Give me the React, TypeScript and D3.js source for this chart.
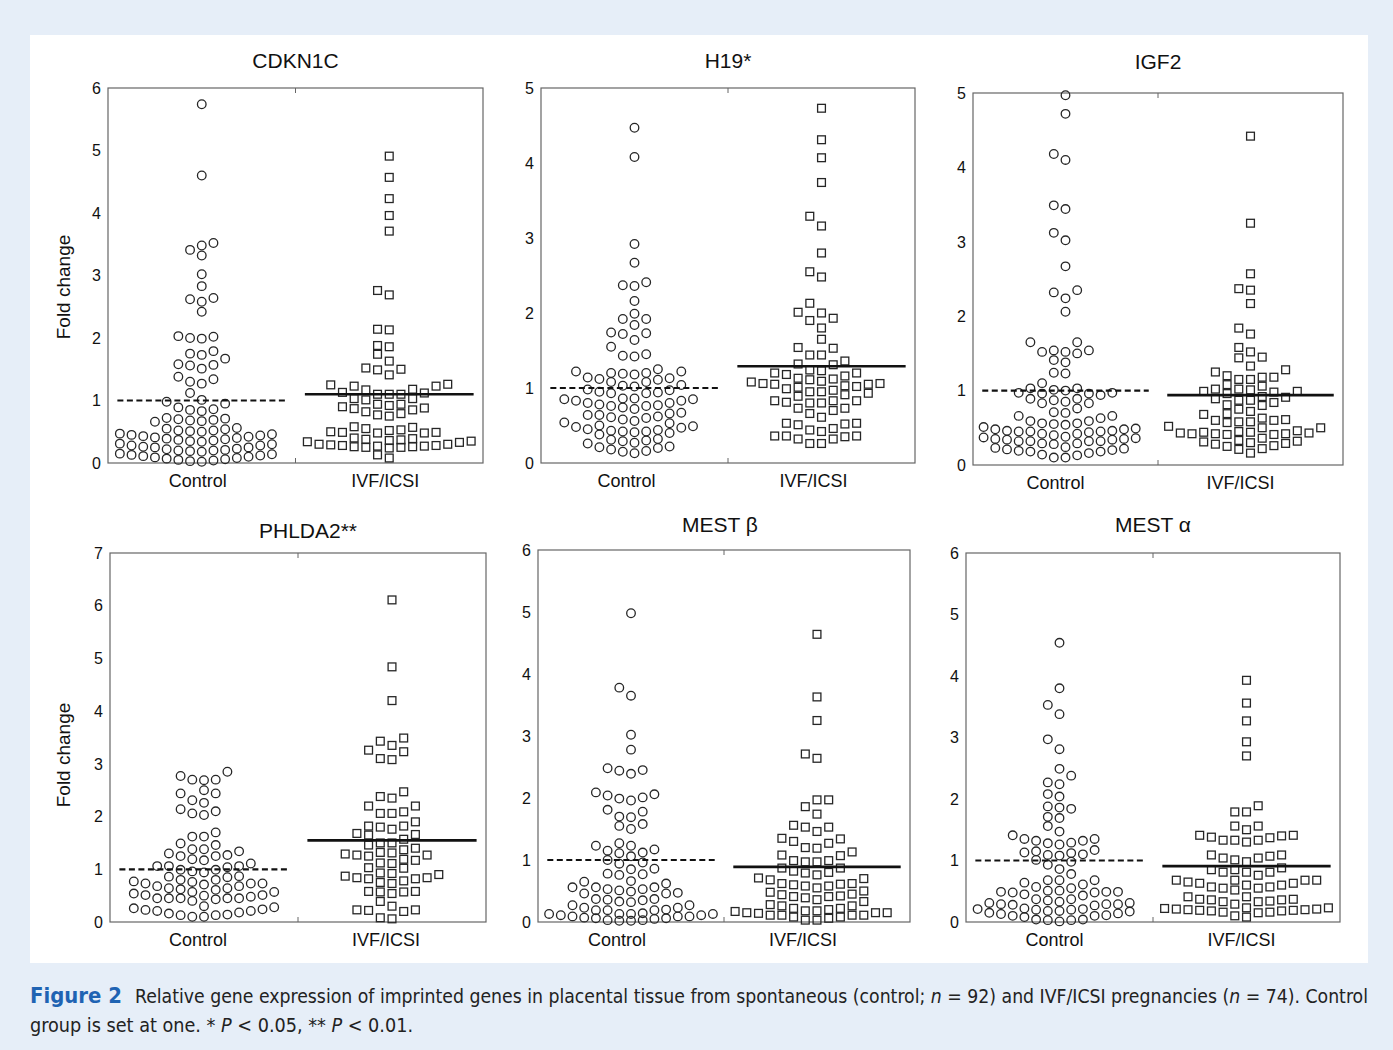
import * as React from 'react';
import * as d3 from 'd3';

// fold change values, one array per gene and group
const cdkn1cControl = [5.74, 4.60, 3.52, 3.48, 3.41, 3.32, 3.02, 2.83, 2.64, 2.62, 2.58, 2.42, 2.03, 2.02, 2.00, 1.99, 1.79, 1.75, 1.73, 1.67, 1.58, 1.57, 1.56, 1.51, 1.38, 1.34, 1.30, 1.27, 1.12, 1.01, 0.98, 0.95, 0.89, 0.86, 0.85, 0.83,
  0.72, 0.71, 0.70, 0.69, 0.68, 0.67, 0.66,
  0.56, 0.55, 0.54, 0.52, 0.52, 0.51, 0.50,
  0.47, 0.46, 0.45, 0.44, 0.43, 0.42, 0.41, 0.40, 0.39, 0.38, 0.37, 0.36, 0.35, 0.34,
  0.31, 0.30, 0.28, 0.28, 0.26, 0.25, 0.25, 0.23, 0.22, 0.21, 0.20, 0.20, 0.19, 0.18,
  0.15, 0.14, 0.13, 0.12, 0.11, 0.10, 0.09, 0.08, 0.07, 0.06, 0.05, 0.04, 0.03, 0.02];
const cdkn1cIvf = [4.91, 4.57, 4.23, 3.96, 3.71, 2.76, 2.69, 2.14, 2.13, 1.88, 1.86, 1.74, 1.63, 1.52, 1.50, 1.49, 1.41, 1.26,
  1.25, 1.23, 1.23, 1.18, 1.17, 1.13, 1.12, 1.10, 1.10, 1.10, 1.03, 1.03, 1.01,
  0.94, 0.94, 0.92, 0.90, 0.88, 0.87, 0.85, 0.82, 0.79, 0.77, 0.75,
  0.58, 0.57, 0.55, 0.53, 0.52, 0.50, 0.49, 0.49, 0.48, 0.48,
  0.40, 0.39, 0.38, 0.37, 0.36, 0.35, 0.34, 0.33,
  0.30, 0.30, 0.29, 0.28, 0.28, 0.27, 0.27, 0.26, 0.26, 0.25, 0.25, 0.24,
  0.13, 0.08];

const h19Control = [4.47, 4.08, 2.92, 2.67, 2.41, 2.37, 2.36, 2.16, 1.99, 1.92, 1.92, 1.84, 1.74, 1.73, 1.72, 1.64, 1.55, 1.45, 1.43, 1.42,
  1.25, 1.22, 1.22, 1.20, 1.20, 1.19, 1.18, 1.14, 1.13, 1.12, 1.11, 1.08, 1.08,
  1.04, 1.03, 1.02,
  0.98, 0.97, 0.95, 0.94, 0.93, 0.93,
  0.86, 0.86, 0.85, 0.85, 0.83, 0.83, 0.80, 0.80, 0.78, 0.77, 0.76, 0.76, 0.74, 0.72,
  0.67, 0.66, 0.64, 0.64, 0.62, 0.61, 0.60, 0.58, 0.56, 0.54, 0.53,
  0.50, 0.49, 0.48, 0.47, 0.45, 0.44, 0.43, 0.42, 0.42, 0.41, 0.40, 0.38,
  0.32, 0.31, 0.30, 0.29, 0.27, 0.26, 0.22, 0.21, 0.20, 0.18, 0.16, 0.15, 0.13];
const h19Ivf = [4.73, 4.31, 4.07, 3.74, 3.29, 3.16, 2.80, 2.55, 2.48, 2.13, 2.01, 2.00, 1.93, 1.90, 1.80, 1.65, 1.54, 1.53, 1.44, 1.44, 1.36, 1.32, 1.31, 1.24, 1.23,
  1.20, 1.20, 1.18, 1.16, 1.13, 1.12, 1.11, 1.09, 1.08, 1.06, 1.06, 1.05, 1.05,
  1.03, 1.02, 1.01, 0.99, 0.97, 0.95, 0.95, 0.93, 0.91, 0.89,
  0.83, 0.83, 0.83, 0.81, 0.80, 0.80, 0.73, 0.73, 0.70, 0.66,
  0.61, 0.53, 0.53, 0.52, 0.51, 0.46,
  0.44, 0.42, 0.36, 0.36, 0.36, 0.35, 0.32, 0.32, 0.26, 0.26];

const igf2Control = [4.97, 4.72, 4.18, 4.10, 3.49, 3.44, 3.12, 3.02, 2.67, 2.35, 2.32, 2.24, 2.06, 1.65, 1.65, 1.54, 1.54, 1.52, 1.52, 1.50, 1.41, 1.38, 1.24, 1.23, 1.10,
  1.03, 1.03, 1.01, 1.00, 0.97, 0.97, 0.96, 0.96,
  0.94, 0.89, 0.89, 0.87, 0.85, 0.83, 0.83, 0.76,
  0.71, 0.70, 0.66, 0.66, 0.63, 0.59, 0.59, 0.56, 0.56, 0.55,
  0.54, 0.51, 0.49, 0.48, 0.48, 0.46, 0.46, 0.45, 0.45, 0.45, 0.44, 0.42, 0.42,
  0.40, 0.38, 0.37, 0.36, 0.35, 0.35, 0.34, 0.34, 0.32, 0.32, 0.32, 0.32, 0.29, 0.29,
  0.28, 0.24, 0.23, 0.22, 0.21, 0.20, 0.19, 0.18, 0.18, 0.16, 0.14, 0.13, 0.10, 0.10];
const igf2Ivf = [4.42, 3.25, 2.57, 2.37, 2.35, 2.17, 1.84, 1.76, 1.58, 1.52, 1.45, 1.44, 1.33,
  1.28, 1.25, 1.20, 1.18, 1.18, 1.15, 1.15,
  1.08, 1.06, 1.02, 1.02, 1.01, 0.99, 0.99, 0.98, 0.96,
  0.92, 0.91, 0.89, 0.87, 0.87, 0.84, 0.81, 0.80, 0.75,
  0.72, 0.69, 0.68, 0.63, 0.61, 0.60, 0.60, 0.58, 0.58, 0.57,
  0.52, 0.50, 0.50, 0.46, 0.45, 0.44, 0.44, 0.43, 0.43, 0.42, 0.42, 0.42, 0.41, 0.41,
  0.36, 0.33, 0.32, 0.31, 0.30, 0.29, 0.28, 0.26, 0.25, 0.22, 0.21, 0.16];

const phlda2Control = [2.85, 2.77, 2.70, 2.70, 2.69, 2.50, 2.44, 2.44, 2.31, 2.26, 2.14, 2.10, 2.06, 2.03, 1.70, 1.62, 1.62, 1.49, 1.46,
  1.38, 1.38, 1.34, 1.30, 1.27, 1.25, 1.25, 1.19, 1.17, 1.11,
  1.06, 1.06, 1.06, 1.04, 0.99, 0.99, 0.96, 0.94, 0.87, 0.86, 0.85,
  0.80, 0.80, 0.77, 0.76, 0.73, 0.73, 0.73, 0.71, 0.68, 0.68, 0.64, 0.64, 0.62, 0.61,
  0.57, 0.57, 0.54, 0.51, 0.51, 0.50, 0.48, 0.45, 0.45, 0.45, 0.45, 0.45, 0.43, 0.40,
  0.30, 0.28, 0.26, 0.24, 0.23, 0.21, 0.21, 0.18, 0.16, 0.14, 0.13, 0.13, 0.10, 0.10];
const phlda2Ivf = [6.11, 4.84, 4.20, 3.49, 3.43, 3.35, 3.26, 3.23, 3.10, 3.08,
  2.47, 2.38, 2.35, 2.20, 2.20, 2.09, 2.06, 2.06,
  1.90, 1.82, 1.82, 1.80, 1.76, 1.68, 1.66, 1.65,
  1.57, 1.50, 1.50, 1.46, 1.40, 1.37, 1.32, 1.31,
  1.29, 1.27, 1.27, 1.25, 1.19, 1.17, 1.12, 1.11, 1.03, 1.02,
  0.93, 0.92, 0.90, 0.87, 0.84, 0.84, 0.82, 0.82, 0.78, 0.75, 0.73,
  0.58, 0.58, 0.57, 0.57, 0.54, 0.39,
  0.30, 0.23, 0.23, 0.22, 0.20, 0.08, 0.06];

const mestBControl = [4.98, 3.78, 3.65, 3.02, 2.78, 2.48, 2.45, 2.44, 2.39, 2.09, 2.06, 2.04, 2.01, 1.99, 1.96, 1.81, 1.78, 1.70, 1.69, 1.58, 1.55, 1.50, 1.27,
  1.23, 1.23, 1.17, 1.15, 1.12, 1.11, 1.06, 1.00,
  0.96, 0.94, 0.86, 0.85, 0.78, 0.77, 0.76,
  0.66, 0.65, 0.62, 0.56, 0.56, 0.56, 0.53, 0.53, 0.51, 0.49, 0.47, 0.46, 0.46,
  0.37, 0.37, 0.36, 0.35, 0.33, 0.32, 0.27, 0.27, 0.23, 0.23, 0.20, 0.19, 0.19, 0.19,
  0.14, 0.13, 0.13, 0.13, 0.13, 0.11, 0.11, 0.09, 0.09, 0.09, 0.07, 0.06, 0.06, 0.05,
  0.03, 0.03, 0.02, 0.02];
const mestBIvf = [4.64, 3.63, 3.25, 2.71, 2.64, 1.97, 1.97, 1.86, 1.74, 1.56, 1.53, 1.53, 1.46, 1.35, 1.34, 1.30, 1.27, 1.20, 1.19, 1.13, 1.08, 1.07, 0.99, 0.99, 0.97, 0.97,
  0.87, 0.87, 0.82, 0.80, 0.79, 0.76, 0.71, 0.70, 0.68,
  0.62, 0.62, 0.61, 0.60, 0.58, 0.58, 0.55, 0.50, 0.48, 0.45, 0.44,
  0.42, 0.41, 0.41, 0.39, 0.36, 0.33, 0.28, 0.26, 0.26, 0.22, 0.22, 0.20,
  0.18, 0.18, 0.17, 0.15, 0.15, 0.15, 0.14, 0.11, 0.11, 0.11, 0.11, 0.08, 0.08, 0.06,
  0.03, 0.03];

const mestAControl = [4.54, 3.80, 3.53, 3.38, 2.97, 2.81, 2.49, 2.38, 2.27, 2.24, 2.08, 2.04, 1.88, 1.86, 1.84, 1.71, 1.69, 1.56, 1.47, 1.41,
  1.35, 1.35, 1.32, 1.32, 1.29, 1.28, 1.26,
  1.17, 1.15, 1.13, 1.12, 1.10, 1.09, 1.08,
  1.01, 0.98, 0.93, 0.86,
  0.78, 0.68, 0.68,
  0.68, 0.64, 0.61, 0.57, 0.55, 0.51, 0.51, 0.49, 0.49, 0.49, 0.48, 0.48,
  0.45, 0.43, 0.37, 0.37, 0.35, 0.33, 0.31, 0.31, 0.29, 0.29, 0.29, 0.28, 0.27, 0.22,
  0.21, 0.21, 0.20, 0.20, 0.18, 0.18, 0.17, 0.15, 0.14, 0.13, 0.11, 0.10, 0.10, 0.08,
  0.04, 0.04, 0.03, 0.03, 0.01];
const mestAIvf = [3.93, 3.56, 3.27, 2.93, 2.70, 1.89, 1.79, 1.79, 1.56, 1.56,
  1.50, 1.41, 1.41, 1.40, 1.38, 1.37, 1.33, 1.33, 1.33, 1.30,
  1.09, 1.09, 1.07, 1.04, 1.04, 1.01, 0.98,
  0.88, 0.85, 0.85, 0.81, 0.81, 0.81, 0.76,
  0.68, 0.68, 0.68, 0.68, 0.65, 0.63, 0.63, 0.60, 0.60, 0.57, 0.57, 0.55, 0.55, 0.52,
  0.41, 0.41, 0.37, 0.37, 0.36, 0.36, 0.34, 0.33, 0.33, 0.29,
  0.23, 0.23, 0.22, 0.21, 0.21, 0.20, 0.20, 0.19, 0.19, 0.18, 0.18, 0.16, 0.16, 0.15,
  0.10, 0.08];

const genes = ['CDKN1C', 'H19*', 'IGF2', 'PHLDA2**', 'MEST β', 'MEST α'];
const groups = ['Control', 'IVF/ICSI'];
const yMaxes = [6, 5, 5, 7, 6, 6];
const controlLevel = [1, 1, 1, 1, 1, 1];
const ivfLevel = [1.10, 1.29, 0.94, 1.55, 0.89, 0.91];
const controlSets = [cdkn1cControl, h19Control, igf2Control, phlda2Control, mestBControl, mestAControl];
const ivfSets = [cdkn1cIvf, h19Ivf, igf2Ivf, phlda2Ivf, mestBIvf, mestAIvf];

// axes boxes in page pixels
const boxes = [
  {left: 108, right: 483, top: 88, bottom: 463, titleY: 68, labelDx: -4, yLabel: 287},
  {left: 541, right: 915, top: 88, bottom: 463, titleY: 68, labelDx: -8},
  {left: 973, right: 1343, top: 93, bottom: 465, titleY: 69, labelDx: -10},
  {left: 110, right: 486, top: 553, bottom: 922, titleY: 538, labelDx: -6, yLabel: 755, titleDx: 10},
  {left: 538, right: 910, top: 550, bottom: 922, titleY: 532, labelDx: -14, titleDx: -4},
  {left: 966, right: 1340, top: 553, bottom: 922, titleY: 532, labelDx: -5},
];

const FONT = '"Liberation Sans", Arial, Helvetica, sans-serif';
const SLOT = 11.7;
const BIN_PX = 10;
const BIN_MAX = 14;
const MIN_GAP = 8.5;
const slotOrder = [0, -1, 1, -2, 2, -3, 3, -4, 4, -5, 5, -6, 6, -7, 7];

// plotSpread-like layout: rows of nearby values, lowest in the middle, higher ones pushed outwards
function swarm(values: number[], y: any) {
  const sorted = [...values].sort((a, b) => a - b);
  const bins: number[][] = [];
  let cur: number[] = [];
  for (const v of sorted) {
    if (cur.length && (y(cur[0]) - y(v) >= BIN_PX || cur.length >= BIN_MAX)) {
      bins.push(cur);
      cur = [];
    }
    cur.push(v);
  }
  if (cur.length) bins.push(cur);
  const last = new Map<number, number>();
  const out: {v: number, slot: number}[] = [];
  bins.forEach(bin => {
    const used = new Set<number>();
    bin.forEach(v => {
      const py = y(v);
      const free = slotOrder.filter(s => !used.has(s));
      const gapOf = (s: number) => last.has(s) ? last.get(s)! - py : Infinity;
      let slot = free.find(s => gapOf(s) >= MIN_GAP);
      if (slot === undefined) {
        slot = free[0];
        free.forEach(s => { if (gapOf(s) > gapOf(slot!) + 0.5) slot = s; });
      }
      used.add(slot);
      last.set(slot, py);
      out.push({v, slot});
    });
  });
  return out;
}

function Panel({i}: {i: number}) {
  const b = boxes[i];
  const x = d3.scaleLinear().domain([0.5, 2.5]).range([b.left, b.right]);
  const y = d3.scaleLinear().domain([0, yMaxes[i]]).range([b.bottom, b.top]);
  const ticks = d3.range(0, yMaxes[i] + 1);
  const sets = [controlSets[i], ivfSets[i]];
  const levels = [controlLevel[i], ivfLevel[i]];
  const cx = (b.left + b.right) / 2;
  return (
    <g>
      <rect x={b.left} y={b.top} width={b.right - b.left} height={b.bottom - b.top} fill="#fff" stroke="#666" strokeWidth={1.2} />
      <line x1={cx} x2={cx} y1={b.top} y2={b.top + 5} stroke="#666" strokeWidth={1} />
      <line x1={cx} x2={cx} y1={b.bottom} y2={b.bottom - 5} stroke="#666" strokeWidth={1} />
      {ticks.map(t => (
        <text key={t} x={b.left - 7} y={y(t)} dy="0.36em" textAnchor="end" fontSize={16} fontFamily={FONT} fill="#111">{t}</text>
      ))}
      {sets.map((vals, g) => {
        const c = x(g + 1);
        return swarm(vals, y).map((d, k) => g === 0 ? (
          <circle key={'c' + g + k} cx={c + d.slot * SLOT} cy={y(d.v)} r={4.3} fill="none" stroke="#262626" strokeWidth={1.3} />
        ) : (
          <rect key={'s' + g + k} x={c + d.slot * SLOT - 3.9} y={y(d.v) - 3.9} width={7.8} height={7.8} fill="none" stroke="#262626" strokeWidth={1.3} />
        ));
      })}
      {levels.map((lv, g) => (
        <line key={'l' + g} x1={x(g + 1 - 0.45)} x2={x(g + 1 + 0.45)} y1={y(lv)} y2={y(lv)}
          stroke="#111" strokeWidth={g === 0 ? 2.2 : 2.7} strokeDasharray={g === 0 ? '6,3.5' : undefined} />
      ))}
      {groups.map((gName, g) => (
        <text key={gName} x={x(g + 1) + b.labelDx} y={b.bottom + 24} textAnchor="middle" fontSize={18} fontFamily={FONT} fill="#111">{gName}</text>
      ))}
      <text x={cx + (b.titleDx || 0)} y={b.titleY} textAnchor="middle" fontSize={21} fontFamily={FONT} fill="#111">{genes[i]}</text>
      {b.yLabel && (
        <text transform={`translate(70,${b.yLabel}) rotate(-90)`} textAnchor="middle" fontSize={19} fontFamily={FONT} fill="#111">Fold change</text>
      )}
    </g>
  );
}

export default function App() {
  const capFont = '"Liberation Sans Narrow", "DejaVu Sans Condensed", "Liberation Sans", sans-serif';
  return (
    <div style={{position: 'absolute', left: 0, top: 0}}>
      <svg width={1393} height={1050}>
        <rect x={0} y={0} width={1393} height={1050} fill="#e6eef8" />
        <rect x={30} y={35} width={1338} height={928} fill="#fff" />
        {genes.map((_, i) => <Panel key={i} i={i} />)}
        <text x={30} y={1003} fontSize={22} fontWeight="bold" fontFamily={capFont} fill="#1f63b3" textLength={92} lengthAdjust="spacingAndGlyphs">Figure 2</text>
        <text x={135} y={1003} fontSize={19} fontFamily={capFont} fill="#222" textLength={1233} lengthAdjust="spacingAndGlyphs">
          Relative gene expression of imprinted genes in placental tissue from spontaneous (control; <tspan fontStyle="italic">n</tspan> = 92) and IVF/ICSI pregnancies (<tspan fontStyle="italic">n</tspan> = 74). Control
        </text>
        <text x={30} y={1032} fontSize={19} fontFamily={capFont} fill="#222" textLength={383} lengthAdjust="spacingAndGlyphs">
          group is set at one. * <tspan fontStyle="italic">P</tspan> &lt; 0.05, ** <tspan fontStyle="italic">P</tspan> &lt; 0.01.
        </text>
      </svg>
    </div>
  );
}
